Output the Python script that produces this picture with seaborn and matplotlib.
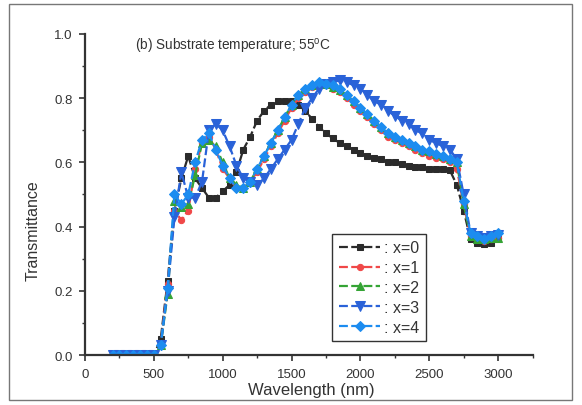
import numpy as np
import pandas as pd
import seaborn as sns
import matplotlib.pyplot as plt
from matplotlib.patches import Rectangle
from matplotlib.ticker import MultipleLocator

wavelength = list(range(200, 3050, 50))
flat = [0.0] * 7  # 200..500 nm

t_x0 = flat + [0.05, 0.23, 0.45, 0.55, 0.62, 0.55, 0.52, 0.49, 0.49, 0.51, 0.53, 0.57, 0.64, 0.68,
               0.73, 0.76, 0.78, 0.79, 0.79, 0.79, 0.78, 0.76, 0.735, 0.71, 0.69, 0.675, 0.66, 0.65,
               0.64, 0.63, 0.62, 0.615, 0.61, 0.60, 0.60, 0.595, 0.59, 0.585, 0.585, 0.58, 0.58,
               0.58, 0.575, 0.53, 0.45, 0.36, 0.35, 0.345, 0.35, 0.36]
t_x1 = flat + [0.03, 0.22, 0.45, 0.42, 0.45, 0.58, 0.66, 0.68, 0.64, 0.58, 0.55, 0.52, 0.52, 0.54,
               0.57, 0.61, 0.65, 0.69, 0.73, 0.77, 0.80, 0.82, 0.835, 0.84, 0.84, 0.83, 0.82, 0.80,
               0.78, 0.76, 0.74, 0.72, 0.70, 0.68, 0.67, 0.66, 0.65, 0.64, 0.63, 0.62, 0.615,
               0.61, 0.60, 0.58, 0.47, 0.37, 0.36, 0.355, 0.36, 0.365]
t_x2 = flat + [0.03, 0.19, 0.48, 0.46, 0.47, 0.56, 0.66, 0.67, 0.65, 0.60, 0.55, 0.53, 0.52, 0.54,
               0.58, 0.62, 0.66, 0.70, 0.74, 0.78, 0.81, 0.83, 0.84, 0.845, 0.845, 0.835, 0.825, 0.81,
               0.79, 0.77, 0.75, 0.73, 0.71, 0.69, 0.68, 0.67, 0.66, 0.65, 0.64, 0.635, 0.625,
               0.62, 0.61, 0.60, 0.47, 0.37, 0.36, 0.36, 0.365, 0.365]
t_x3 = flat + [0.03, 0.20, 0.43, 0.57, 0.49, 0.49, 0.54, 0.70, 0.72, 0.70, 0.65, 0.59, 0.55, 0.54,
               0.53, 0.55, 0.58, 0.61, 0.64, 0.67, 0.72, 0.77, 0.80, 0.83, 0.845, 0.85, 0.855, 0.85,
               0.84, 0.83, 0.81, 0.79, 0.78, 0.76, 0.745, 0.73, 0.72, 0.70, 0.69, 0.67, 0.66,
               0.65, 0.64, 0.61, 0.50, 0.38, 0.37, 0.365, 0.37, 0.375]
t_x4 = flat + [0.03, 0.21, 0.50, 0.47, 0.50, 0.60, 0.67, 0.69, 0.64, 0.59, 0.55, 0.52, 0.52, 0.54,
               0.58, 0.62, 0.66, 0.70, 0.74, 0.78, 0.81, 0.83, 0.84, 0.85, 0.845, 0.84, 0.83, 0.81,
               0.79, 0.77, 0.75, 0.73, 0.71, 0.69, 0.68, 0.67, 0.66, 0.65, 0.64, 0.635, 0.625,
               0.62, 0.61, 0.60, 0.48, 0.38, 0.37, 0.36, 0.37, 0.38]

series = {": x=0": t_x0, ": x=1": t_x1, ": x=2": t_x2, ": x=3": t_x3, ": x=4": t_x4}
colors = ["#2b2b2b", "#f04848", "#35a435", "#2a62d8", "#1c8cf0"]
markers = ["s", "o", "^", "v", "D"]
msizes = [4, 4.5, 6, 6.5, 5]

sns.set_style("ticks")
plt.rcParams["font.family"] = ["Liberation Sans", "DejaVu Sans"]

fig, ax = plt.subplots(figsize=(5.82, 4.06), dpi=100)
fig.subplots_adjust(left=0.146, right=0.915, top=0.914, bottom=0.123)

for (label, vals), c, m, ms in zip(series.items(), colors, markers, msizes):
    df = pd.DataFrame({"wl": wavelength, "T": vals})
    sns.lineplot(data=df, x="wl", y="T", ax=ax, color=c, marker=m, markersize=ms,
                 markeredgecolor=c, linestyle=(0, (4, 1.5)), linewidth=1.6, label=label)

ax.set_xlim(0, 3250)
ax.set_ylim(0, 1.0)
ax.xaxis.set_major_locator(MultipleLocator(500))
ax.xaxis.set_minor_locator(MultipleLocator(250))
ax.yaxis.set_major_locator(MultipleLocator(0.2))
ax.yaxis.set_minor_locator(MultipleLocator(0.1))
ax.yaxis.set_major_formatter(plt.FuncFormatter(lambda v, p: f"{v:.1f}"))
ax.tick_params(which="major", length=4, width=1.2, labelsize=9.5, colors="#333333", pad=5)
ax.tick_params(which="minor", length=2.5, width=1.0, colors="#333333")
for s in ["top", "right"]:
    ax.spines[s].set_visible(False)
for s in ["left", "bottom"]:
    ax.spines[s].set_linewidth(1.6)
    ax.spines[s].set_color("#333333")

ax.set_xlabel("Wavelength (nm)", fontsize=12, color="#333333")
ax.xaxis.set_label_coords(0.505, -0.085)
ax.set_ylabel("Transmittance", fontsize=11.5, color="#333333")
ax.yaxis.set_label_coords(-0.1, 0.39)
ax.text(0.112, 0.995, "(b) Substrate temperature; 55$^\\mathregular{o}$C", transform=ax.transAxes,
        fontsize=9.8, color="#333333", va="top")

leg = ax.legend(loc="upper left", bbox_to_anchor=(0.553, 0.377), frameon=True, fancybox=False,
                edgecolor="#333333", framealpha=1, fontsize=11.5, handlelength=2.6,
                handletextpad=0.25, labelspacing=0.3, borderpad=0.4, borderaxespad=0)
leg.get_frame().set_linewidth(1.0)
for t in leg.get_texts():
    t.set_color("#333333")

fig.patches.append(Rectangle((0.015, 0.012), 0.968, 0.975, transform=fig.transFigure,
                             fill=False, edgecolor="#777777", linewidth=1.0))

fig.savefig("out.png", dpi=100)
